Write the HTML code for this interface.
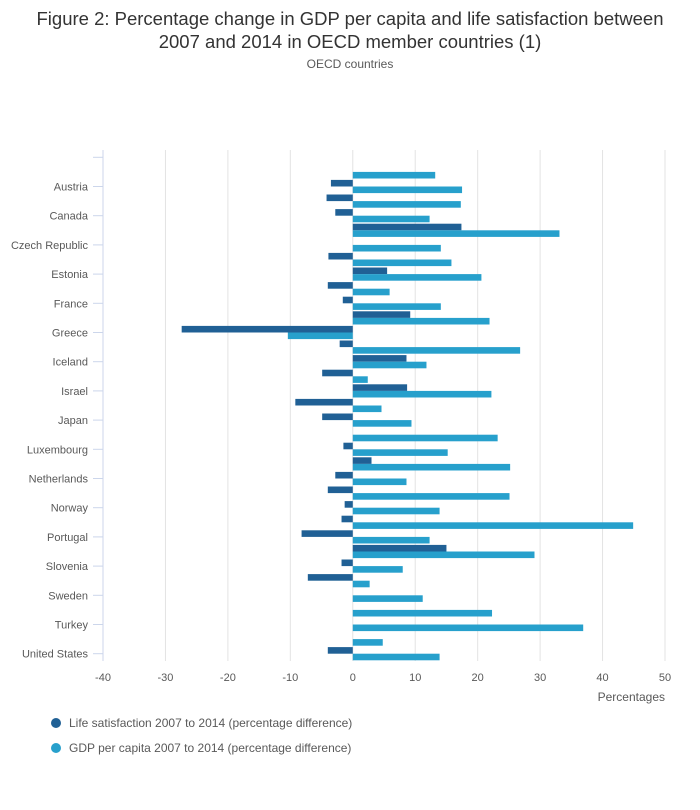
<!DOCTYPE html>
<html><head><meta charset="utf-8"><style>
body{margin:0;background:#fff;font-family:"Liberation Sans",sans-serif;}
#wrap{position:relative;width:700px;height:810px;}
h1{position:absolute;top:7px;left:0;width:700px;margin:0;text-align:center;font-weight:normal;font-size:18.5px;line-height:23px;color:#333;}
.sub{position:absolute;top:57px;width:700px;text-align:center;font-size:12px;color:#595959;}
svg text{font-family:"Liberation Sans",sans-serif;}
</style></head><body><div id="wrap">
<h1>Figure 2: Percentage change in GDP per capita and life satisfaction between<br>2007 and 2014 in OECD member countries (1)</h1>
<div class="sub">OECD countries</div>
<svg id="chart" width="700" height="810" style="position:absolute;left:0;top:0"></svg>
</div>
<script>
const categories=["","Australia","Austria","Belgium","Canada","Chile","Czech Republic","Denmark","Estonia","Finland","France","Germany","Greece","Hungary","Iceland","Ireland","Israel","Italy","Japan","Korea","Luxembourg","Mexico","Netherlands","New Zealand","Norway","Poland","Portugal","Slovak Republic","Slovenia","Spain","Sweden","Switzerland","Turkey","United Kingdom","United States"];
const lifeSat=[0,0,-3.5,-4.2,-2.8,17.4,0,-3.9,5.5,-4.0,-1.6,9.2,-27.4,-2.1,8.6,-4.9,8.7,-9.2,-4.9,0,-1.5,3.0,-2.8,-4.0,-1.3,-1.8,-8.2,15.0,-1.8,-7.2,0,0,0,0,-4.0];
const gdp=[0,13.2,17.5,17.3,12.3,33.1,14.1,15.8,20.6,5.9,14.1,21.9,-10.4,26.8,11.8,2.4,22.2,4.6,9.4,23.2,15.2,25.2,8.6,25.1,13.9,44.9,12.3,29.1,8.0,2.7,11.2,22.3,36.9,4.8,13.9];
const xTicks=[-40,-30,-20,-10,0,10,20,30,40,50];
const svg=document.getElementById('chart');const NS='http://www.w3.org/2000/svg';
const L=103,R=665,T=150,B=661,xmin=-40,xmax=50;
const band=(B-T)/categories.length;
function x(v){return L+(v-xmin)/(xmax-xmin)*(R-L);}
function yc(i){return T+(i+0.5)*band;}
function mk(t,a){const e=document.createElementNS(NS,t);for(const k in a)e.setAttribute(k,a[k]);svg.appendChild(e);return e;}
xTicks.forEach(v=>{
 if(v!==xmin){const g=mk('line',{x1:x(v),x2:x(v),y1:T,y2:B,stroke:'#e3e3e3','stroke-width':1});
 
 }
 const t=mk('text',{x:x(v),y:681,'text-anchor':'middle','font-size':11,fill:'#595959'});t.textContent=v;
 
 
});
const ax=mk('line',{x1:L,x2:L,y1:T,y2:B,stroke:'#ccd6eb','stroke-width':1});


const bh=6.6;
categories.forEach((c,i)=>{
 if(i%2===0){const tk=mk('line',{x1:93,x2:L,y1:yc(i),y2:yc(i),stroke:'#ccd6eb'});
  
  
  const lb=mk('text',{x:88,y:yc(i)+4,'text-anchor':'end','font-size':11,fill:'#595959'});lb.textContent=c;
  
  }
 const a=lifeSat[i];
 if(a!==0){const r=mk('rect',{x:Math.min(x(0),x(a)),y:yc(i)-bh,width:Math.abs(x(a)-x(0)),height:bh,fill:'#206095'});
  
  }
 const g=gdp[i];
 if(g!==0){const r=mk('rect',{x:Math.min(x(0),x(g)),y:yc(i),width:Math.abs(x(g)-x(0)),height:bh,fill:'#27a0cc'});
  
  }
});
const xt=mk('text',{x:R,y:701,'text-anchor':'end','font-size':12,fill:'#595959'});xt.textContent='Percentages';


[['#206095','Life satisfaction 2007 to 2014 (percentage difference)',723],['#27a0cc','GDP per capita 2007 to 2014 (percentage difference)',748]].forEach(d=>{
 const c=mk('circle',{cx:56,cy:d[2],r:5,fill:d[0]});
 
 
 const t=mk('text',{x:69,y:d[2]+4,'font-size':12,fill:'#595959'});t.textContent=d[1];
 
 
});
</script></body></html>
